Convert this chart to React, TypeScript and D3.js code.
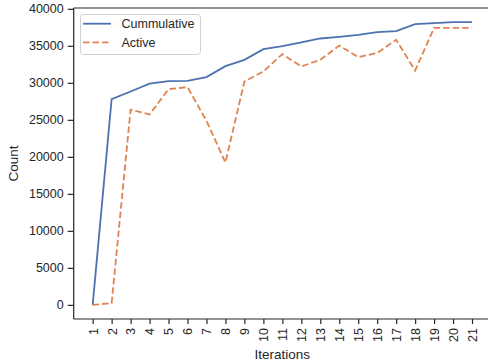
import React, { useEffect, useRef } from 'react'
import * as d3 from 'd3'

const iterations = [1, 2, 3, 4, 5, 6, 7, 8, 9, 10, 11, 12, 13, 14, 15, 16, 17, 18, 19, 20, 21]
const cumulative = [0, 27800, 28830, 29900, 30230, 30270, 30770, 32250, 33100, 34550, 34950, 35450, 35990, 36220, 36490, 36850, 36980, 37930, 38070, 38200, 38200]
const active = [0, 230, 26390, 25720, 29150, 29420, 24860, 19230, 30180, 31530, 33880, 32210, 33110, 35040, 33470, 34020, 35810, 31660, 37430, 37430, 37430]
const yTicks = [0, 5000, 10000, 15000, 20000, 25000, 30000, 35000, 40000]
const seriesNames = ['Cummulative', 'Active']

const W = 488
const H = 364
const FONT = 'Liberation Sans, Arial, sans-serif'
const INK = '#262626'

const App = () => {
  const svgRef = useRef<SVGSVGElement>(null)

  useEffect(() => {
    const svg = d3.select(svgRef.current)
    svg.selectAll('*').remove()

    const left = 73.7, right = 491, top = 8, bottom = 319
    const xScale = d3.scaleLinear().domain([0, 22]).range([left, right])
    const yScale = d3.scaleLinear().domain([-1910, 40110]).range([bottom, top])

    // spines
    svg.append('line').attr('x1', left).attr('x2', left).attr('y1', top).attr('y2', bottom)
      .attr('stroke', INK).attr('stroke-width', 1.2)
    svg.append('line').attr('x1', left).attr('x2', W).attr('y1', bottom).attr('y2', bottom)
      .attr('stroke', INK).attr('stroke-width', 1.2)
    svg.append('line').attr('x1', left).attr('x2', W).attr('y1', top).attr('y2', top)
      .attr('stroke', INK).attr('stroke-width', 1.2)

    // y axis
    const yAxis = d3.axisLeft(yScale).tickValues(yTicks).tickSize(6).tickPadding(4).tickFormat(d3.format('d'))
    const gy = svg.append('g').attr('transform', `translate(${left},0)`).call(yAxis)
    gy.select('.domain').remove()
    gy.selectAll('line').attr('stroke', INK).attr('stroke-width', 1.2)
    gy.selectAll('text').attr('fill', INK).style('font-family', FONT).style('font-size', '12.5px')

    // x axis
    const xAxis = d3.axisBottom(xScale).tickValues(iterations).tickSize(5).tickFormat(d3.format('d'))
    const gx = svg.append('g').attr('transform', `translate(0,${bottom})`).call(xAxis)
    gx.select('.domain').remove()
    gx.selectAll('line').attr('stroke', INK).attr('stroke-width', 1.2)
    gx.selectAll('text')
      .attr('fill', INK)
      .style('font-family', FONT).style('font-size', '12.5px')
      .attr('transform', 'rotate(-90)')
      .attr('text-anchor', 'end')
      .attr('x', -9).attr('y', 0).attr('dy', '0.35em')

    // axis titles
    svg.append('text').attr('x', (left + right) / 2).attr('y', 359)
      .attr('text-anchor', 'middle').attr('fill', INK)
      .style('font-family', FONT).style('font-size', '13.5px').text('Iterations')
    svg.append('text').attr('transform', `translate(18,${(top + bottom) / 2}) rotate(-90)`)
      .attr('text-anchor', 'middle').attr('fill', INK)
      .style('font-family', FONT).style('font-size', '13.5px').text('Count')

    const line = d3.line<number>()
      .x((_, i) => xScale(iterations[i]))
      .y(d => yScale(d))

    svg.append('path').datum(cumulative).attr('d', line)
      .attr('fill', 'none').attr('stroke', '#4c72b0').attr('stroke-width', 1.8)
    svg.append('path').datum(active).attr('d', line)
      .attr('fill', 'none').attr('stroke', '#dd8452').attr('stroke-width', 1.8)
      .attr('stroke-dasharray', '6.5 3')

    // legend
    const lg = svg.append('g')
    lg.append('rect').attr('x', 80.5).attr('y', 14.5).attr('width', 120).attr('height', 40)
      .attr('rx', 3).attr('fill', 'white').attr('fill-opacity', 0.8)
      .attr('stroke', '#d0d0d0').attr('stroke-width', 1)
    const colors = ['#4c72b0', '#dd8452']
    const dashes = [null, '6.5 3']
    seriesNames.forEach((name, i) => {
      const yy = 23.7 + i * 18.6
      lg.append('line').attr('x1', 83).attr('x2', 111).attr('y1', yy).attr('y2', yy)
        .attr('stroke', colors[i]).attr('stroke-width', 1.8)
        .attr('stroke-dasharray', dashes[i])
      lg.append('text').attr('x', 121.5).attr('y', yy).attr('dy', '0.35em')
        .attr('fill', INK).style('font-family', FONT).style('font-size', '12.5px').text(name)
    })
  }, [])

  return (
    <div style={{ position: 'absolute', left: 0, top: 0 }}>
      <svg ref={svgRef} width={W} height={H} style={{ display: 'block', background: 'white' }} />
    </div>
  )
}

export default App
